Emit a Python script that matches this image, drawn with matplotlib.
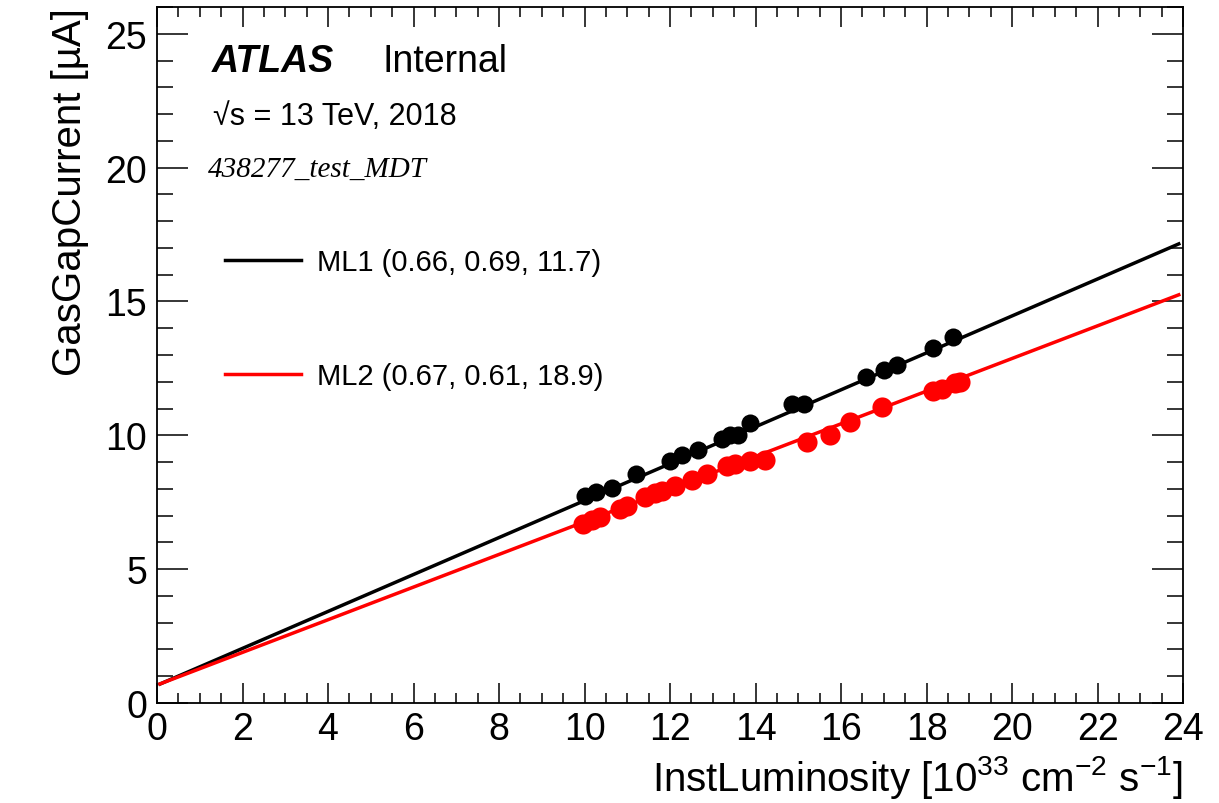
import numpy as np
import matplotlib
matplotlib.use('Agg')
import matplotlib.pyplot as plt
from matplotlib.ticker import MultipleLocator

plt.rcParams['font.family'] = ['Liberation Sans', 'DejaVu Sans']
plt.rcParams['mathtext.fontset'] = 'custom'
plt.rcParams['mathtext.rm'] = 'Liberation Sans'
plt.rcParams['mathtext.it'] = 'Liberation Sans:italic'

# ML1 measurements (inst. luminosity, gas gap current)
ml1_lumi = [10.01, 10.27, 10.64, 11.20, 12.00, 12.28, 12.65, 13.22, 13.40, 13.59,
            13.87, 14.85, 15.13, 16.58, 17.00, 17.31, 18.15, 18.62]
ml1_curr = [7.72, 7.87, 8.02, 8.54, 9.03, 9.25, 9.44, 9.85, 10.00, 10.00,
            10.45, 11.16, 11.16, 12.16, 12.43, 12.61, 13.28, 13.66]

# ML2 measurements
ml2_lumi = [9.96, 10.18, 10.36, 10.83, 10.99, 11.42, 11.65, 11.81, 12.12, 12.51,
            12.87, 13.33, 13.52, 13.87, 14.22, 15.20, 15.74, 16.21, 16.96, 18.15,
            18.36, 18.67, 18.78]
ml2_curr = [6.68, 6.83, 6.94, 7.24, 7.35, 7.69, 7.84, 7.91, 8.10, 8.32,
            8.54, 8.84, 8.92, 9.03, 9.07, 9.74, 10.00, 10.49, 11.04, 11.64,
            11.72, 11.94, 12.01]

# linear fit parameters (intercept, slope, third number from legend)
ml1_fit = (0.66, 0.69, 11.7)
ml2_fit = (0.67, 0.61, 18.9)
fit_range = (0.07, 23.9)

W, H = 1219, 804
fig = plt.figure(figsize=(W / 100, H / 100), dpi=100)
ax = fig.add_axes([0.1288, 0.1244, 0.8417, 0.8656])


def px(x, y):
    # pixel position from the top-left corner -> figure fraction
    return x / W, 1 - y / H


xf = np.linspace(fit_range[0], fit_range[1], 200)
for name, lumi, curr, fit, col, ms in [('ML1', ml1_lumi, ml1_curr, ml1_fit, 'black', 13),
                                       ('ML2', ml2_lumi, ml2_curr, ml2_fit, 'red', 14.5)]:
    ax.plot(lumi, curr, 'o', color=col, markersize=ms, markeredgewidth=0, zorder=3)
    ax.plot(xf, fit[0] + fit[1] * xf, color=col, linewidth=2.5, zorder=4,
            label='%s (%.2f, %.2f, %.1f)' % (name, *fit))

ax.set_xlim(0, 24)
ax.set_ylim(0, 26)
ax.xaxis.set_major_locator(MultipleLocator(2))
ax.xaxis.set_minor_locator(MultipleLocator(0.5))
ax.yaxis.set_major_locator(MultipleLocator(5))
ax.yaxis.set_minor_locator(MultipleLocator(1))
ax.tick_params(axis='both', which='both', direction='in', top=True, right=True,
               width=1.1, labelsize=27)
ax.tick_params(axis='x', which='major', length=14.4, pad=6)
ax.tick_params(axis='x', which='minor', length=7.2)
ax.tick_params(axis='y', which='major', length=22.3, pad=7)
ax.tick_params(axis='y', which='minor', length=11.5)
for s in ax.spines.values():
    s.set_linewidth(1.3)

ax.set_xlabel(r'InstLuminosity [10$^{33}$ cm$^{-2}$ s$^{-1}$]', fontsize=29, loc='right', labelpad=4)
ax.set_ylabel('GasGapCurrent [µA]', fontsize=29, loc='top', labelpad=12)

fig.text(*px(212, 72), 'ATLAS', fontsize=27, fontweight='bold', style='italic')
fig.text(*px(383, 72), 'Internal', fontsize=27)
fig.text(*px(213, 125), '√s = 13 TeV, 2018', fontsize=22)
fig.text(*px(208, 177), '438277_test_MDT', fontsize=21,
         family=['Liberation Serif', 'DejaVu Serif'], style='italic')

leg = ax.legend(loc='upper left', bbox_to_anchor=px(225, 249),
                bbox_transform=fig.transFigure, frameon=False, fontsize=21,
                handlelength=2.6, handletextpad=0.55, labelspacing=2.95,
                borderpad=0, borderaxespad=0)

fig.savefig('out.png', dpi=100)
